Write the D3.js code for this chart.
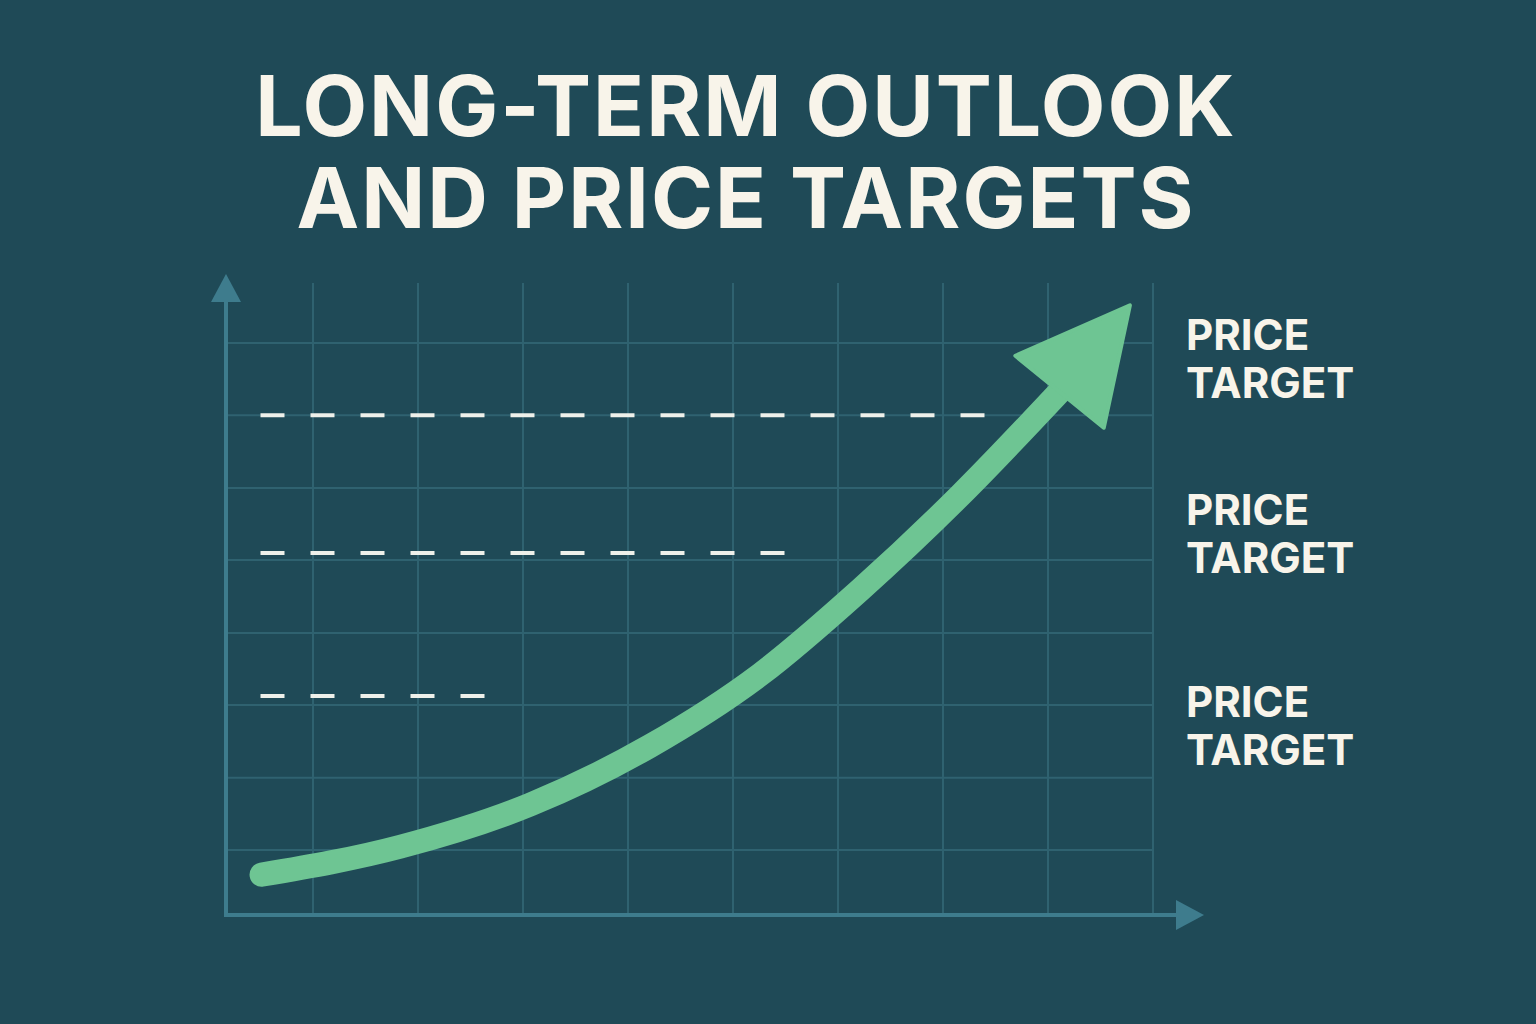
<!DOCTYPE html>
<html><head><meta charset="utf-8">
<script src="https://cdn.jsdelivr.net/npm/d3@7"></script>
<style>body{margin:0;background:#1f4a57}svg{display:block}</style>
</head><body><svg></svg>
<script>
// data
let titleLines = ['LONG-TERM OUTLOOK', 'AND PRICE TARGETS']
let gridX = [1, 2, 3, 4, 5, 6, 7, 8, 9]
let gridY = [10, 21.1, 32.3, 43.4, 54.6, 65.7, 76.9, 88]
let curveX = [0.51, 1.83, 3.07, 4.21, 5.26, 6.21, 7.16, 8.11]
let curveV = [6.2, 10.5, 17, 26, 37, 50, 64.5, 80.5]
let tipPoint = [8.78, 93.8]
let targetValues = [76.9, 55.7, 33.7]
let targetEnds = [7.45, 5.59, 2.69]
let targetLabelY = [87, 60, 30.5]

let width = 1536, height = 1024
let svg = d3.select('svg').attr('width', width).attr('height', height)
svg.append('rect').attr('width', width).attr('height', height).attr('fill', '#1f4a57')

let xScale = d3.scaleLinear().domain([0, 9]).range([208, 1153])
let yScale = d3.scaleLinear().domain([0, 100]).range([915, 265])

// title
svg.selectAll('.title').data(titleLines).enter().append('text')
  .attr('x', 746).attr('y', (d, i) => 136 + i * 92)
  .attr('text-anchor', 'middle').attr('fill', '#f8f4ea')
  .style('font', 'bold 84px Inter, "DejaVu Sans", sans-serif').style('letter-spacing', '2px')
  .text(d => d)

// grid
let gridColor = '#2f6270'
svg.selectAll('.gx').data(gridX).enter().append('line')
  .attr('x1', d => xScale(d)).attr('x2', d => xScale(d))
  .attr('y1', 283).attr('y2', 915).attr('stroke', gridColor).attr('stroke-width', 2)
svg.selectAll('.gy').data(gridY).enter().append('line')
  .attr('x1', 226).attr('x2', xScale(9))
  .attr('y1', d => yScale(d)).attr('y2', d => yScale(d)).attr('stroke', gridColor).attr('stroke-width', 2)

// axes
let axisColor = '#3e7c8d'
svg.append('line').attr('x1', 226).attr('x2', 226).attr('y1', 917).attr('y2', 290)
  .attr('stroke', axisColor).attr('stroke-width', 4)
svg.append('path').attr('d', 'M226,274 L211,302 L241,302 Z').attr('fill', axisColor)
svg.append('line').attr('x1', 224).attr('x2', 1185).attr('y1', 915).attr('y2', 915)
  .attr('stroke', axisColor).attr('stroke-width', 4)
svg.append('path').attr('d', 'M1204,915 L1176,900 L1176,930 Z').attr('fill', axisColor)

// dashed targets
svg.selectAll('.dash').data(targetValues).enter().append('line')
  .attr('x1', xScale(0.5)).attr('x2', (d, i) => xScale(targetEnds[i]))
  .attr('y1', d => yScale(d)).attr('y2', d => yScale(d))
  .attr('stroke', '#eef0ea').attr('stroke-width', 4).attr('stroke-dasharray', '24 26')

// curve
let green = '#6ec593'
let pts = curveX.map((x, i) => [xScale(x), yScale(curveV[i])])
svg.append('path').attr('d', d3.line().curve(d3.curveMonotoneX)(pts))
  .attr('fill', 'none').attr('stroke', green).attr('stroke-width', 24).attr('stroke-linecap', 'round')
let base = pts[pts.length - 1]
let tip = [xScale(tipPoint[0]), yScale(tipPoint[1])]
let dx = tip[0] - base[0], dy = tip[1] - base[1], len = Math.hypot(dx, dy)
let nx = -dy / len * 57, ny = dx / len * 57
svg.append('path')
  .attr('d', `M${tip[0]},${tip[1]} L${base[0] + nx},${base[1] + ny} L${base[0] - nx},${base[1] - ny} Z`)
  .attr('fill', green).attr('stroke', green).attr('stroke-width', 4).attr('stroke-linejoin', 'round')

// labels
let lab = svg.selectAll('.lab').data(targetLabelY).enter().append('text')
  .attr('x', 1186).attr('y', d => yScale(d))
  .attr('fill', '#f8f4ea').style('font', 'bold 42px Inter, "DejaVu Sans", sans-serif')
lab.append('tspan').attr('x', 1186).text('PRICE')
lab.append('tspan').attr('x', 1186).attr('dy', 48).text('TARGET')
</script></body></html>
